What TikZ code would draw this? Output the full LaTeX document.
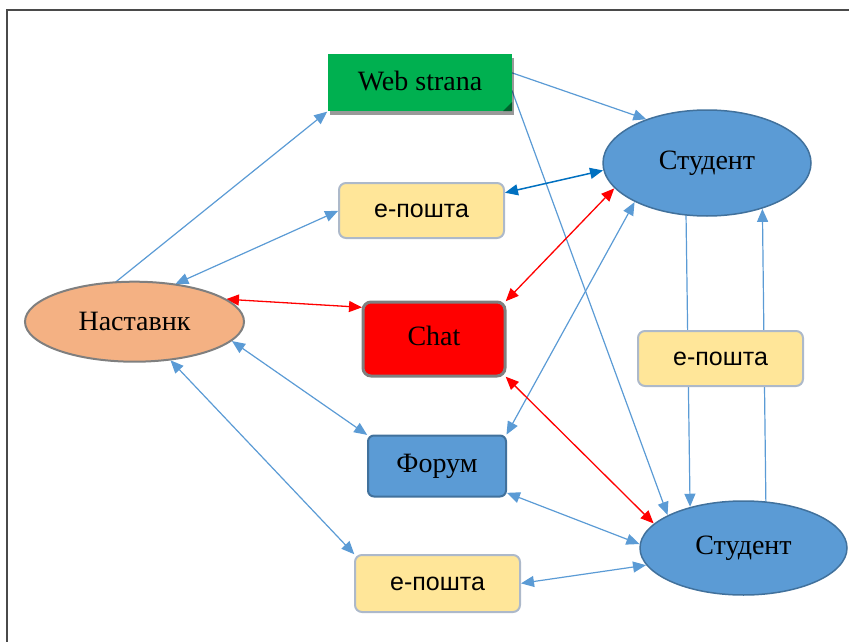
\documentclass[tikz,border=0pt]{standalone}
\usepackage{fontspec}
\setmainfont{Liberation Serif}
\newfontfamily\mailfont{Liberation Sans}
\usetikzlibrary{arrows.meta,shapes.geometric,shadows,backgrounds}
\definecolor{lblue}{HTML}{5B9BD5}
\definecolor{dblue}{HTML}{41719C}
\definecolor{linkblue}{HTML}{0070C0}
\definecolor{mailfill}{HTML}{FFE699}
\definecolor{mailedge}{HTML}{ADB9CA}
\definecolor{peach}{HTML}{F4B183}
\definecolor{webgreen}{HTML}{00B050}
\definecolor{framegray}{HTML}{4A4A4A}
\definecolor{edgegray}{HTML}{7F7F7F}
\begin{document}
\begin{tikzpicture}[x=1pt,y=-1pt,
  serif/.style={font=\fontsize{28}{30}\selectfont},
  person/.style={ellipse, draw=dblue, line width=1.5pt, fill=lblue,
    inner sep=0pt, outer sep=0pt, serif},
  mail/.style={rectangle, rounded corners=7pt, draw=mailedge, line width=2pt,
    fill=mailfill, minimum width=165pt, minimum height=55pt, inner sep=0pt,
    outer sep=0pt, font=\mailfont\fontsize{25}{28}\selectfont},
  oneway/.style={draw=lblue, line width=1.2pt, -{Triangle[length=13pt,width=11pt]},
    shorten >=1pt},
  link/.style={draw=lblue, line width=1.2pt,
    {Triangle[length=13pt,width=11pt]}-{Triangle[length=13pt,width=11pt]},
    shorten >=1pt, shorten <=1pt},
  redlink/.style={link, draw=red, line width=1.3pt},
  darklink/.style={link, draw=linkblue, line width=1.5pt},
]
\useasboundingbox (0,0) rectangle (849,642);

% outer frame (top and left edges)
\draw[framegray, line width=2pt] (849,10) -- (7,10) -- (7,642);

% web page with shadow and folded corner
\node[rectangle, fill=webgreen, minimum width=184pt, minimum height=57pt,
  inner sep=0pt, outer sep=0pt, serif,
  drop shadow={shadow xshift=2pt, shadow yshift=-4pt, opacity=0.4, fill=black}]
  (web) at (420,82.5) {\raisebox{4pt}{Web strana}};
\fill[webgreen!55!black] (web.south east) ++(-9,0) -- ++(9,-9) -- ++(0,9) -- cycle;

% students
\node[person, minimum width=208pt, minimum height=106pt] (st1) at (707,163) {\raisebox{2pt}{Студент}};
\node[person, minimum width=207pt, minimum height=94pt] (st2) at (743.5,548) {\raisebox{5pt}{Студент}};

% mentor
\node[ellipse, draw=edgegray, line width=2pt, fill=peach, inner sep=0pt,
  outer sep=0pt, minimum width=219pt, minimum height=80pt, serif]
  (nav) at (134.5,321.7) {Наставнк};

% communication channels
\node[mail] (em1) at (421.5,210.5) {е-пошта};
\node[rectangle, rounded corners=8pt, draw=edgegray, line width=3pt, fill=red,
  minimum width=142pt, minimum height=74pt, inner sep=0pt, outer sep=0pt, serif]
  (chat) at (434,339) {\raisebox{7pt}{Chat}};
\node[mail] (em2) at (720.5,358.5) {е-пошта};
\node[rectangle, rounded corners=6pt, draw=dblue, line width=2pt, fill=lblue,
  minimum width=138pt, minimum height=61pt, inner sep=0pt, outer sep=0pt, serif]
  (forum) at (437,466) {Форум};
\node[mail, minimum height=57pt] (em3) at (437.5,583.5) {е-пошта};

% connectors
\begin{pgfonlayer}{background}
\draw[oneway] (nav.116) -- (web.south west);
\draw[link] (em1.west) -- (nav.43);
\draw[redlink] (chat.156) -- (nav.14);
\draw[link] (nav.-11) -- (forum.north west);
\draw[link] (nav.-47) -- (em3.north west);
\draw[oneway] (web.6) -- (st1.144);
\draw[oneway] (web.-5) -- (st2.157);
\draw[darklink] (em1.12) -- (st1.184);
\draw[redlink] (chat.north east) -- (st1.195);
\draw[link] (forum.north east) -- (st1.208);
\draw[redlink] (chat.south east) -- (st2.165);
\draw[link] (forum.-21) -- (st2.178);
\draw[link] (em3.east) -- (st2.190);
\draw[oneway] (st1.248) -- (st2.143);
\draw[oneway] (st2.64) -- (st1.321);
\end{pgfonlayer}
\end{tikzpicture}
\end{document}
